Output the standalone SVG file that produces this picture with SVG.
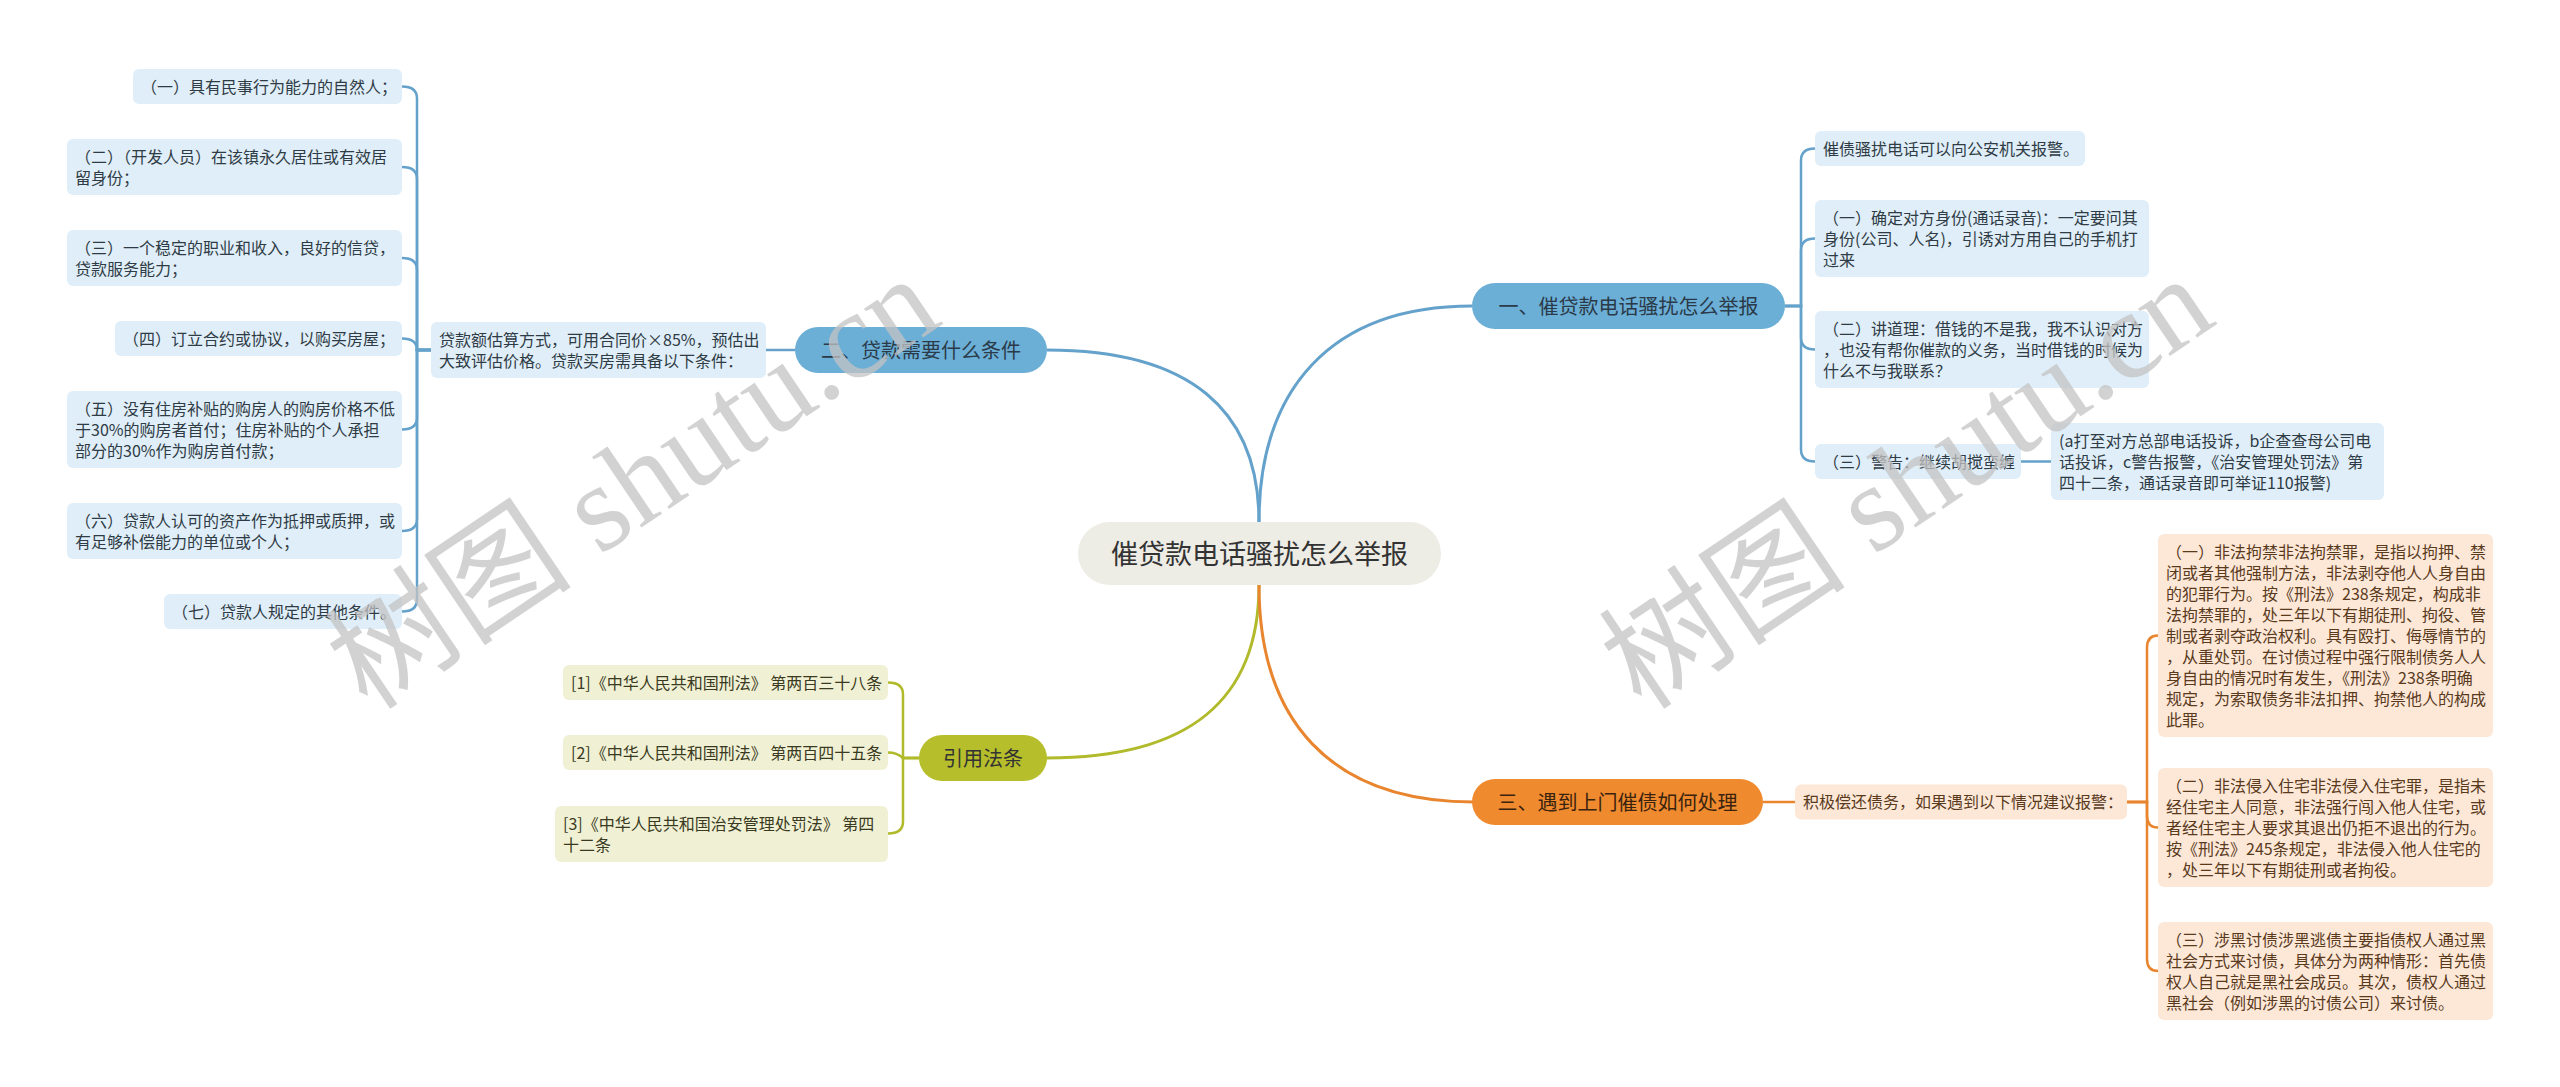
<svg xmlns="http://www.w3.org/2000/svg" width="2560" height="1087" viewBox="0 0 2560 1087">
<style>
.t{font-family:"Noto Sans CJK SC","Noto Sans",sans-serif;font-size:16px;fill:#333}
.tb{fill:#2f3b45}
.to{fill:#5a3a1c}
.tl{fill:#3a3a22}
.m{font-family:"Noto Sans CJK SC","Noto Sans",sans-serif;font-size:20px;text-anchor:middle}
.bl{fill:#dfeef8}
.ol{fill:#f0f1d4}
.or{fill:#fde8d8}
.cb{fill:none;stroke:#64a2cb;stroke-width:2.5}
.cbm{fill:none;stroke:#64a2cb;stroke-width:3}
.co{fill:none;stroke:#e8852e;stroke-width:2.5}
.com{fill:none;stroke:#e8852e;stroke-width:3}
.cl{fill:none;stroke:#b0ba2a;stroke-width:2.5}
.clm{fill:none;stroke:#b0ba2a;stroke-width:3}
.wm{font-family:"Liberation Serif","Noto Sans CJK SC",serif;font-size:124px;fill:#c4c4c4;opacity:0.75}
</style>
<rect width="2560" height="1087" fill="#ffffff"/>
<g id="connectors">
<path class="cbm" d="M1259,522 C1259,390 1330,306 1472,306"/>
<path class="cbm" d="M1259,522 C1259,410 1190,350 1047,350"/>
<path class="clm" d="M1259,585 C1259,700 1190,758 1047,758"/>
<path class="com" d="M1259,585 C1259,720 1330,802 1474,802"/>
<path class="cb" d="M1785,306 H1801 V160.5 Q1801,148.5 1815,148.5"/>
<path class="cb" d="M1785,306 H1801 V250.5 Q1801,238.5 1815,238.5"/>
<path class="cb" d="M1785,306 H1801 V337.5 Q1801,349.5 1815,349.5"/>
<path class="cb" d="M1785,306 H1801 V449.5 Q1801,461.5 1815,461.5"/>
<path class="cb" d="M2021,461.5 H2051"/>
<path class="cb" d="M795,350 H766"/>
<path class="cb" d="M431,350 H417 V98.5 Q417,86.5 402,86.5"/>
<path class="cb" d="M431,350 H417 V179 Q417,167 402,167"/>
<path class="cb" d="M431,350 H417 V270 Q417,258 402,258"/>
<path class="cb" d="M431,350 H417 V350 Q417,338.5 402,338.5"/>
<path class="cb" d="M431,350 H417 V417.5 Q417,429.5 402,429.5"/>
<path class="cb" d="M431,350 H417 V519 Q417,531 402,531"/>
<path class="cb" d="M431,350 H417 V599.5 Q417,611.5 402,611.5"/>
<path class="cl" d="M919,758 H903 V694.5 Q903,682.5 888,682.5"/>
<path class="cl" d="M919,758 H903 Q897,752.5 888,752.5"/>
<path class="cl" d="M919,758 H903 V821.5 Q903,833.5 888,833.5"/>
<path class="co" d="M1763,802 H1795"/>
<path class="co" d="M2127,802 H2147 V647.5 Q2147,635.5 2158,635.5"/>
<path class="co" d="M2127,802 H2147 V815.5 Q2147,827.5 2158,827.5"/>
<path class="co" d="M2127,802 H2147 V959 Q2147,971 2158,971"/>
</g>
<g id="root">
<rect x="1078" y="522" width="363" height="63" rx="31.5" fill="#edece5"/>
<text x="1259.5" y="564" font-family="Noto Sans CJK SC,sans-serif" font-size="27" fill="#333" text-anchor="middle">催贷款电话骚扰怎么举报</text>
</g>
<g id="topic1">
<rect x="1472" y="283" width="313" height="46" rx="23" fill="#6baed6"/>
<text class="m" x="1628.5" y="313.5" fill="#2a3a48">一、催贷款电话骚扰怎么举报</text>
</g>
<g id="t1c1"><rect class="bl" x="1815" y="131" width="270" height="35" rx="6"/><text class="t tb" x="1823" y="154.5">催债骚扰电话可以向公安机关报警。</text></g>
<g id="t1c2"><rect class="bl" x="1815" y="200" width="334" height="77" rx="6"/><text class="t tb" x="1823" y="223.5">（一）确定对方身份(通话录音)：一定要问其<tspan x="1823" dy="21">身份(公司、人名)，引诱对方用自己的手机打</tspan><tspan x="1823" dy="21">过来</tspan></text></g>
<g id="t1c3"><rect class="bl" x="1815" y="311" width="334" height="77" rx="6"/><text class="t tb" x="1823" y="334.5">（二）讲道理：借钱的不是我，我不认识对方<tspan x="1823" dy="21">，也没有帮你催款的义务，当时借钱的时候为</tspan><tspan x="1823" dy="21">什么不与我联系？</tspan></text></g>
<g id="t1c4"><rect class="bl" x="1815" y="444" width="206" height="35" rx="6"/><text class="t tb" x="1823" y="467.5">（三）警告：继续胡搅蛮缠</text></g>
<g id="t1c4a"><rect class="bl" x="2051" y="423" width="333" height="77" rx="6"/><text class="t tb" x="2059" y="446.5">(a打至对方总部电话投诉，b企查查母公司电<tspan x="2059" dy="21">话投诉，c警告报警，《治安管理处罚法》第</tspan><tspan x="2059" dy="21">四十二条，通话录音即可举证110报警)</tspan></text></g>
<g id="topic2">
<rect x="795" y="327" width="252" height="46" rx="23" fill="#6baed6"/>
<text class="m" x="921" y="357.5" fill="#2a3a48">二、贷款需要什么条件</text>
</g>
<g id="t2c0"><rect class="bl" x="431" y="322" width="335" height="56" rx="6"/><text class="t tb" x="439" y="345.5">贷款额估算方式，可用合同价×85%，预估出<tspan x="439" dy="21">大致评估价格。贷款买房需具备以下条件：</tspan></text></g>
<g id="t2c1"><rect class="bl" x="133" y="69" width="269" height="35" rx="6"/><text class="t tb" x="141" y="92.5">（一）具有民事行为能力的自然人；</text></g>
<g id="t2c2"><rect class="bl" x="67" y="139" width="335" height="56" rx="6"/><text class="t tb" x="75" y="162.5">（二）（开发人员）在该镇永久居住或有效居<tspan x="75" dy="21">留身份；</tspan></text></g>
<g id="t2c3"><rect class="bl" x="67" y="230" width="335" height="56" rx="6"/><text class="t tb" x="75" y="253.5">（三）一个稳定的职业和收入，良好的信贷，<tspan x="75" dy="21">贷款服务能力；</tspan></text></g>
<g id="t2c4"><rect class="bl" x="115" y="321" width="287" height="35" rx="6"/><text class="t tb" x="123" y="344.5">（四）订立合约或协议，以购买房屋；</text></g>
<g id="t2c5"><rect class="bl" x="67" y="391" width="335" height="77" rx="6"/><text class="t tb" x="75" y="414.5">（五）没有住房补贴的购房人的购房价格不低<tspan x="75" dy="21">于30%的购房者首付；住房补贴的个人承担</tspan><tspan x="75" dy="21">部分的30%作为购房首付款；</tspan></text></g>
<g id="t2c6"><rect class="bl" x="67" y="503" width="335" height="56" rx="6"/><text class="t tb" x="75" y="526.5">（六）贷款人认可的资产作为抵押或质押，或<tspan x="75" dy="21">有足够补偿能力的单位或个人；</tspan></text></g>
<g id="t2c7"><rect class="bl" x="164" y="594" width="238" height="35" rx="6"/><text class="t tb" x="172" y="617.5">（七）贷款人规定的其他条件。</text></g>
<g id="topic4">
<rect x="919" y="735" width="128" height="46" rx="23" fill="#b6bf2b"/>
<text class="m" x="983" y="765.5" fill="#333">引用法条</text>
</g>
<g id="t4c1"><rect class="ol" x="563" y="665" width="325" height="35" rx="6"/><text class="t tl" x="571" y="688.5">[1]《中华人民共和国刑法》 第两百三十八条</text></g>
<g id="t4c2"><rect class="ol" x="563" y="735" width="325" height="35" rx="6"/><text class="t tl" x="571" y="758.5">[2]《中华人民共和国刑法》 第两百四十五条</text></g>
<g id="t4c3"><rect class="ol" x="555" y="806" width="333" height="56" rx="6"/><text class="t tl" x="563" y="829.5">[3]《中华人民共和国治安管理处罚法》 第四<tspan x="563" dy="21">十二条</tspan></text></g>
<g id="topic3">
<rect x="1472" y="779" width="291" height="46" rx="23" fill="#f08a2e"/>
<text class="m" x="1617.5" y="809.5" fill="#3a2410">三、遇到上门催债如何处理</text>
</g>
<g id="t3c0"><rect class="or" x="1795" y="784.5" width="332" height="35" rx="6"/><text class="t to" x="1803" y="808">积极偿还债务，如果遇到以下情况建议报警：</text></g>
<g id="t3c1"><rect class="or" x="2158" y="534" width="335" height="203" rx="6"/><text class="t to" x="2166" y="557.5">（一）非法拘禁非法拘禁罪，是指以拘押、禁<tspan x="2166" dy="21">闭或者其他强制方法，非法剥夺他人人身自由</tspan><tspan x="2166" dy="21">的犯罪行为。按《刑法》238条规定，构成非</tspan><tspan x="2166" dy="21">法拘禁罪的，处三年以下有期徒刑、拘役、管</tspan><tspan x="2166" dy="21">制或者剥夺政治权利。具有殴打、侮辱情节的</tspan><tspan x="2166" dy="21">，从重处罚。在讨债过程中强行限制债务人人</tspan><tspan x="2166" dy="21">身自由的情况时有发生，《刑法》238条明确</tspan><tspan x="2166" dy="21">规定，为索取债务非法扣押、拘禁他人的构成</tspan><tspan x="2166" dy="21">此罪。</tspan></text></g>
<g id="t3c2"><rect class="or" x="2158" y="768" width="335" height="119" rx="6"/><text class="t to" x="2166" y="791.5">（二）非法侵入住宅非法侵入住宅罪，是指未<tspan x="2166" dy="21">经住宅主人同意，非法强行闯入他人住宅，或</tspan><tspan x="2166" dy="21">者经住宅主人要求其退出仍拒不退出的行为。</tspan><tspan x="2166" dy="21">按《刑法》245条规定，非法侵入他人住宅的</tspan><tspan x="2166" dy="21">，处三年以下有期徒刑或者拘役。</tspan></text></g>
<g id="t3c3"><rect class="or" x="2158" y="922" width="335" height="98" rx="6"/><text class="t to" x="2166" y="945.5">（三）涉黑讨债涉黑逃债主要指债权人通过黑<tspan x="2166" dy="21">社会方式来讨债，具体分为两种情形：首先债</tspan><tspan x="2166" dy="21">权人自己就是黑社会成员。其次，债权人通过</tspan><tspan x="2166" dy="21">黑社会（例如涉黑的讨债公司）来讨债。</tspan></text></g>
<g id="watermark">
<text class="wm" x="368" y="712" transform="rotate(-34 368 712)">树图 shutu.cn</text>
<text class="wm" x="1642" y="712" transform="rotate(-34 1642 712)">树图 shutu.cn</text>
</g>
</svg>
